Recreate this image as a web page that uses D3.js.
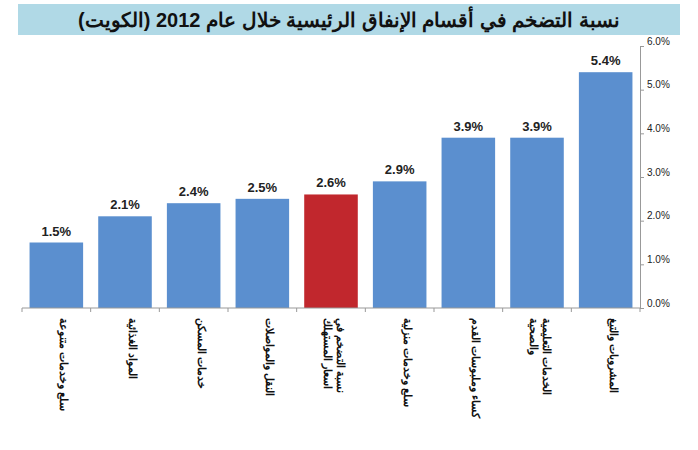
<!DOCTYPE html>
<html><head><meta charset="utf-8">
<script src="https://cdn.jsdelivr.net/npm/d3@7"></script>
<style>body{margin:0;background:#fff}</style>
</head><body>
<script>
var categories = [
  ['سلع وخدمات متنوعة'],
  ['المواد الغذائية'],
  ['خدمات المسكن'],
  ['النقل والمواصلات'],
  ['نسبة التضخم في', 'اسعار المستهلك'],
  ['سلع وخدمات منزلية'],
  ['كساء وملبوسات القدم'],
  ['الخدمات التعليمية', 'والصحية'],
  ['المشروبات والتبغ']
];
var values = [1.5, 2.1, 2.4, 2.5, 2.6, 2.9, 3.9, 3.9, 5.4];
var highlight = 4;
var yTicks = [0, 1, 2, 3, 4, 5, 6];

var m = { left: 22, right: 58, top: 46, bottom: 142 };
var W = 698, H = 450;
var w = W - m.left - m.right, h = H - m.top - m.bottom;

var svg = d3.select('body').append('svg').attr('width', W).attr('height', H)
  .style('font-family', 'Arial, "Liberation Sans", sans-serif');

svg.append('rect').attr('x', 18).attr('y', 4).attr('width', 662).attr('height', 31).attr('fill', '#b0d9e6');
svg.append('text').attr('x', 349).attr('y', 27).attr('text-anchor', 'middle')
  .attr('font-size', 20).attr('font-weight', 'bold').attr('fill', '#111')
  .text('نسبة التضخم في أقسام الإنفاق الرئيسية خلال عام 2012 (الكويت)');

var g = svg.append('g').attr('transform', 'translate(' + m.left + ',' + m.top + ')');
var xScale = d3.scaleBand().domain(d3.range(categories.length)).range([0, w]).paddingInner(0.22).paddingOuter(0.11);
var yScale = d3.scaleLinear().domain([0, 6]).range([h, 0]);

g.selectAll('rect.bar').data(values).enter().append('rect').attr('class', 'bar')
  .attr('x', function (d, i) { return xScale(i); })
  .attr('y', function (d) { return yScale(d); })
  .attr('width', xScale.bandwidth())
  .attr('height', function (d) { return h - yScale(d); })
  .attr('fill', function (d, i) { return i === highlight ? '#c1272d' : '#5b8fcf'; });

g.selectAll('text.val').data(values).enter().append('text').attr('class', 'val')
  .attr('x', function (d, i) { return xScale(i) + xScale.bandwidth() / 2; })
  .attr('y', function (d) { return yScale(d) - 7; })
  .attr('text-anchor', 'middle').attr('font-size', 13).attr('font-weight', 'bold').attr('fill', '#222')
  .text(function (d) { return d.toFixed(1) + '%'; });

var yAxis = g.append('g').attr('transform', 'translate(' + w + ',0)')
  .call(d3.axisRight(yScale).tickValues(yTicks).tickSize(4).tickFormat(function (d) { return d.toFixed(1) + '%'; }));
yAxis.selectAll('text').attr('font-size', 10).attr('fill', '#222').attr('dy', '-0.2em');
yAxis.selectAll('line,path').attr('stroke', '#999');

var xAxis = g.append('g').attr('transform', 'translate(0,' + h + ')');
xAxis.append('line').attr('x1', 0).attr('x2', w).attr('stroke', '#999');
var step = xScale.step();
xAxis.selectAll('line.tk').data(d3.range(categories.length + 1)).enter().append('line').attr('class', 'tk')
  .attr('x1', function (d) { return xScale(0) - xScale.paddingInner() * step / 2 + d * step; })
  .attr('x2', function (d) { return xScale(0) - xScale.paddingInner() * step / 2 + d * step; })
  .attr('y1', 0).attr('y2', 4).attr('stroke', '#999');

xAxis.selectAll('text.cat').data(categories).enter().append('text').attr('class', 'cat')
  .attr('transform', function (d, i) {
    var cx = xScale(i) + xScale.bandwidth() / 2 + (d.length > 1 ? 6 : 4);
    return 'translate(' + cx + ',10) rotate(90)';
  })
  .attr('font-size', 11).attr('font-weight', 'bold').attr('fill', '#111')
  .each(function (d) {
    var t = d3.select(this);
    d.forEach(function (line, k) {
      t.append('tspan').attr('x', 0).attr('dy', k === 0 ? 0 : '1.2em').attr('text-anchor', 'start').text(line);
    });
  });
</script>
</body></html>
